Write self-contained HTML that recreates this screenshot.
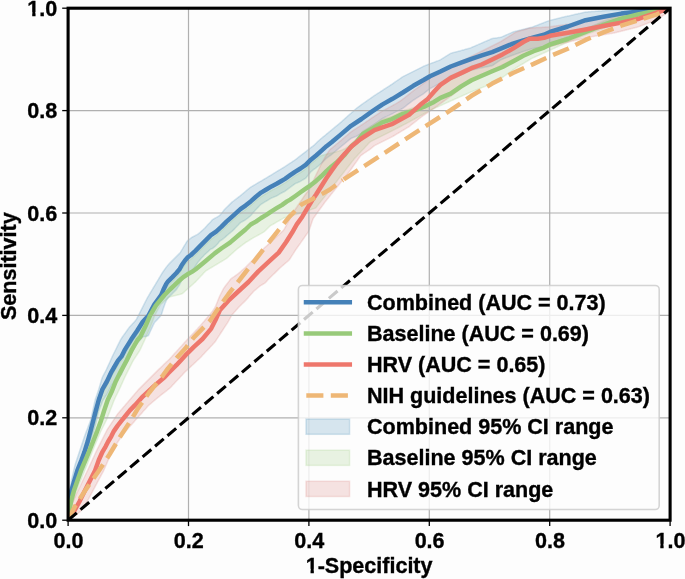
<!DOCTYPE html>
<html><head><meta charset="utf-8"><style>
html,body{margin:0;padding:0;background:#fdfdfd;width:685px;height:579px;overflow:hidden}
svg{display:block;will-change:transform}
text{font-family:"Liberation Sans",sans-serif}
</style></head><body>
<svg width="685" height="579" viewBox="0 0 685 579">
<rect width="685" height="579" fill="#fdfdfd"/>
<defs><clipPath id="ax"><rect x="68.1" y="8.2" width="602" height="512"/></clipPath></defs>
<g clip-path="url(#ax)">
<polygon points="68.0,520.0 68.5,505.6 69.5,492.6 70.5,486.3 71.5,480.0 72.5,475.7 73.5,471.4 74.5,467.1 75.5,463.5 76.5,460.5 77.5,457.5 78.5,454.5 79.5,451.5 80.5,448.5 81.5,445.5 82.5,442.5 83.5,439.5 84.5,436.5 85.5,433.7 86.5,431.1 87.5,428.5 88.5,425.8 89.5,423.2 90.5,420.6 91.5,416.5 92.5,411.9 93.5,407.3 94.5,402.7 95.5,398.8 96.5,395.9 97.5,392.9 98.5,390.0 99.5,386.6 100.5,383.2 101.5,379.7 102.5,377.0 103.5,375.1 104.5,373.2 105.5,371.3 106.5,369.3 107.5,367.1 108.5,364.9 109.5,362.7 110.5,360.5 111.5,358.3 112.5,356.1 113.5,354.0 114.5,352.0 115.5,350.0 116.5,348.0 117.5,345.9 118.5,343.9 119.5,341.9 120.5,339.9 121.5,338.3 122.5,336.8 123.5,335.4 124.5,334.0 125.5,332.6 126.5,331.2 127.5,329.8 128.5,328.4 129.5,327.0 130.5,325.9 131.5,324.9 132.5,323.8 133.5,322.8 134.5,321.7 135.5,320.6 136.5,319.2 137.5,317.2 138.5,315.3 139.5,313.3 140.5,311.3 141.5,309.3 142.5,307.4 143.5,305.4 144.5,303.4 145.5,301.4 146.5,299.5 147.5,297.5 148.5,295.9 149.5,294.2 150.5,292.5 151.5,290.8 152.5,289.2 153.5,287.5 154.5,285.8 155.5,284.2 156.5,282.5 157.5,280.8 158.5,279.2 159.5,277.5 160.5,275.8 161.5,274.1 162.5,272.5 163.5,271.0 164.5,269.6 165.5,268.3 166.5,266.9 167.5,265.6 168.5,264.4 169.5,263.4 170.5,262.4 171.5,261.4 172.5,260.4 173.5,259.4 174.5,258.4 175.5,257.4 176.5,256.4 177.5,255.4 178.5,254.4 179.5,253.4 180.5,252.1 181.5,250.4 182.5,248.8 183.5,247.1 184.5,245.4 185.5,243.8 186.5,242.1 187.5,240.7 188.5,239.9 189.5,239.2 190.5,238.4 191.5,237.6 192.5,237.0 193.5,236.5 194.5,236.0 195.5,235.4 196.5,234.9 197.5,234.4 198.5,233.7 199.5,232.9 200.5,232.0 201.5,231.1 202.5,230.2 203.5,229.3 204.5,228.4 205.5,227.3 206.5,226.2 207.5,225.1 208.5,224.0 209.5,223.0 210.5,221.9 211.5,220.8 212.5,219.7 213.5,219.1 214.5,218.5 215.5,217.9 216.5,217.4 217.5,216.8 218.5,216.2 219.5,215.6 220.5,214.6 221.5,213.4 222.5,212.1 223.5,210.8 224.5,209.6 225.5,208.5 226.5,207.5 227.5,206.5 228.5,205.6 229.5,204.6 230.5,203.6 231.5,202.6 232.5,201.7 233.5,201.0 234.5,200.2 235.5,199.4 236.5,198.7 237.5,197.9 238.5,197.1 239.5,196.4 240.5,195.6 241.5,194.7 242.5,193.9 243.5,193.1 244.5,192.2 245.5,191.4 246.5,190.5 247.5,189.7 248.5,188.9 249.5,188.0 250.5,187.3 251.5,186.7 252.5,186.1 253.5,185.5 254.5,184.9 255.5,184.3 256.5,183.7 257.5,183.1 258.5,182.5 259.5,181.9 260.5,181.3 261.5,180.8 262.5,180.2 263.5,179.6 264.5,179.0 265.5,178.4 266.5,177.8 267.5,177.2 268.5,176.6 269.5,176.0 270.5,175.4 271.5,174.8 272.5,174.2 273.5,173.6 274.5,172.9 275.5,172.3 276.5,171.7 277.5,171.1 278.5,170.5 279.5,169.9 280.5,169.3 281.5,168.7 282.5,168.1 283.5,167.5 284.5,166.9 285.5,166.2 286.5,165.6 287.5,164.9 288.5,164.2 289.5,163.6 290.5,162.9 291.5,162.3 292.5,161.6 293.5,160.9 294.5,160.3 295.5,159.5 296.5,158.8 297.5,158.0 298.5,157.2 299.5,156.4 300.5,155.7 301.5,154.9 302.5,154.1 303.5,153.3 304.5,152.6 305.5,151.8 306.5,151.0 307.5,150.2 308.5,149.5 309.5,148.7 310.5,147.9 311.5,147.1 312.5,146.4 313.5,145.6 314.5,144.7 315.5,143.7 316.5,142.8 317.5,141.8 318.5,140.9 319.5,140.0 320.5,139.1 321.5,138.3 322.5,137.4 323.5,136.6 324.5,135.8 325.5,135.0 326.5,134.1 327.5,133.3 328.5,132.5 329.5,131.7 330.5,130.8 331.5,130.0 332.5,129.2 333.5,128.4 334.5,127.5 335.5,126.7 336.5,125.9 337.5,125.1 338.5,124.2 339.5,123.4 340.5,122.6 341.5,121.7 342.5,120.8 343.5,119.9 344.5,119.0 345.5,118.1 346.5,117.2 347.5,116.3 348.5,115.4 349.5,114.5 350.5,113.7 351.5,112.8 352.5,111.9 353.5,111.0 354.5,110.1 355.5,109.2 356.5,108.3 357.5,107.5 358.5,106.8 359.5,106.1 360.5,105.3 361.5,104.6 362.5,103.9 363.5,103.2 364.5,102.5 365.5,101.8 366.5,101.1 367.5,100.4 368.5,99.7 369.5,99.0 370.5,98.3 371.5,97.6 372.5,96.9 373.5,96.2 374.5,95.5 375.5,94.9 376.5,94.2 377.5,93.6 378.5,92.9 379.5,92.3 380.5,91.6 381.5,91.0 382.5,90.3 383.5,89.7 384.5,89.0 385.5,88.4 386.5,87.7 387.5,87.1 388.5,86.4 389.5,85.8 390.5,85.1 391.5,84.5 392.5,83.8 393.5,83.1 394.5,82.4 395.5,81.7 396.5,81.0 397.5,80.3 398.5,79.7 399.5,79.0 400.5,78.3 401.5,77.6 402.5,76.9 403.5,76.3 404.5,75.8 405.5,75.3 406.5,74.8 407.5,74.3 408.5,73.8 409.5,73.3 410.5,72.8 411.5,72.3 412.5,71.8 413.5,71.3 414.5,70.8 415.5,70.3 416.5,69.8 417.5,69.3 418.5,68.8 419.5,68.3 420.5,67.8 421.5,67.3 422.5,66.8 423.5,66.3 424.5,65.9 425.5,65.5 426.5,65.1 427.5,64.7 428.5,64.3 429.5,64.0 430.5,63.6 431.5,63.2 432.5,62.8 433.5,62.5 434.5,62.1 435.5,61.7 436.5,61.3 437.5,60.9 438.5,60.6 439.5,60.2 440.5,59.7 441.5,59.1 442.5,58.4 443.5,57.8 444.5,57.2 445.5,56.6 446.5,55.9 447.5,55.3 448.5,54.7 449.5,54.1 450.5,53.4 451.5,53.1 452.5,52.8 453.5,52.5 454.5,52.3 455.5,52.0 456.5,51.7 457.5,51.5 458.5,51.2 459.5,50.9 460.5,50.7 461.5,50.4 462.5,50.1 463.5,49.9 464.5,49.6 465.5,49.3 466.5,49.0 467.5,48.8 468.5,48.5 469.5,48.2 470.5,47.9 471.5,47.5 472.5,47.0 473.5,46.6 474.5,46.2 475.5,45.7 476.5,45.3 477.5,44.9 478.5,44.4 479.5,44.0 480.5,43.6 481.5,43.1 482.5,42.7 483.5,42.3 484.5,41.8 485.5,41.4 486.5,41.0 487.5,40.5 488.5,40.1 489.5,39.7 490.5,39.2 491.5,38.8 492.5,38.5 493.5,38.3 494.5,38.2 495.5,38.0 496.5,37.9 497.5,37.7 498.5,37.6 499.5,37.4 500.5,37.3 501.5,37.0 502.5,36.6 503.5,36.1 504.5,35.7 505.5,35.3 506.5,34.8 507.5,34.4 508.5,33.9 509.5,33.5 510.5,33.1 511.5,32.6 512.5,32.2 513.5,31.8 514.5,31.6 515.5,31.3 516.5,31.1 517.5,30.8 518.5,30.6 519.5,30.3 520.5,30.1 521.5,29.8 522.5,29.6 523.5,29.3 524.5,29.1 525.5,28.8 526.5,28.5 527.5,28.3 528.5,28.0 529.5,27.8 530.5,27.5 531.5,27.3 532.5,27.0 533.5,26.6 534.5,26.2 535.5,25.8 536.5,25.5 537.5,25.1 538.5,24.7 539.5,24.3 540.5,23.9 541.5,23.5 542.5,23.2 543.5,22.8 544.5,22.4 545.5,22.0 546.5,21.6 547.5,21.3 548.5,20.9 549.5,20.5 550.5,20.2 551.5,19.9 552.5,19.7 553.5,19.5 554.5,19.2 555.5,19.0 556.5,18.7 557.5,18.5 558.5,18.3 559.5,18.0 560.5,17.8 561.5,17.5 562.5,17.3 563.5,17.1 564.5,16.8 565.5,16.6 566.5,16.4 567.5,16.1 568.5,15.9 569.5,15.7 570.5,15.5 571.5,15.2 572.5,15.0 573.5,14.8 574.5,14.5 575.5,14.3 576.5,14.1 577.5,13.9 578.5,13.6 579.5,13.4 580.5,13.2 581.5,12.9 582.5,12.7 583.5,12.5 584.5,12.3 585.5,12.0 586.5,11.9 587.5,11.9 588.5,11.8 589.5,11.7 590.5,11.7 591.5,11.6 592.5,11.5 593.5,11.5 594.5,11.4 595.5,11.3 596.5,11.3 597.5,11.2 598.5,11.1 599.5,11.1 600.5,11.0 601.5,10.9 602.5,10.8 603.5,10.8 604.5,10.7 605.5,10.6 606.5,10.6 607.5,10.5 608.5,10.4 609.5,10.4 610.5,10.3 611.5,10.2 612.5,10.2 613.5,10.1 614.5,10.1 615.5,10.0 616.5,10.0 617.5,10.0 618.5,9.9 619.5,9.9 620.5,9.8 621.5,9.8 622.5,9.8 623.5,9.7 624.5,9.7 625.5,9.6 626.5,9.6 627.5,9.5 628.5,9.5 629.5,9.4 630.5,9.4 631.5,9.4 632.5,9.3 633.5,9.3 634.5,9.2 635.5,9.2 636.5,9.2 637.5,9.1 638.5,9.1 639.5,9.0 640.5,9.0 641.5,9.0 642.5,8.9 643.5,8.9 644.5,8.9 645.5,8.9 646.5,8.8 647.5,8.8 648.5,8.8 649.5,8.7 650.5,8.7 651.5,8.7 652.5,8.7 653.5,8.6 654.5,8.6 655.5,8.6 656.5,8.6 657.5,8.5 658.5,8.5 659.5,8.5 660.5,8.5 661.5,8.4 662.5,8.4 663.5,8.4 664.5,8.3 665.5,8.3 666.5,8.3 667.5,8.3 668.5,8.2 669.5,8.2 670.0,8.2 670.0,8.2 669.5,8.3 668.5,8.5 667.5,8.7 666.5,9.0 665.5,9.2 664.5,9.4 663.5,9.6 662.5,9.8 661.5,10.0 660.5,10.3 659.5,10.5 658.5,10.7 657.5,10.9 656.5,11.1 655.5,11.3 654.5,11.5 653.5,11.6 652.5,11.8 651.5,12.0 650.5,12.2 649.5,12.3 648.5,12.5 647.5,12.7 646.5,12.9 645.5,13.0 644.5,13.2 643.5,13.4 642.5,13.6 641.5,13.7 640.5,13.9 639.5,14.1 638.5,14.3 637.5,14.4 636.5,14.6 635.5,14.8 634.5,15.0 633.5,15.2 632.5,15.4 631.5,15.6 630.5,15.7 629.5,15.9 628.5,16.1 627.5,16.3 626.5,16.5 625.5,16.7 624.5,16.9 623.5,17.1 622.5,17.2 621.5,17.4 620.5,17.7 619.5,18.0 618.5,18.3 617.5,18.6 616.5,18.9 615.5,19.2 614.5,19.5 613.5,19.8 612.5,20.1 611.5,20.4 610.5,20.7 609.5,21.0 608.5,21.2 607.5,21.5 606.5,21.8 605.5,22.1 604.5,22.4 603.5,22.6 602.5,22.9 601.5,23.3 600.5,23.6 599.5,23.9 598.5,24.2 597.5,24.5 596.5,24.9 595.5,25.2 594.5,25.5 593.5,25.8 592.5,26.1 591.5,26.5 590.5,26.8 589.5,27.1 588.5,27.4 587.5,27.7 586.5,28.1 585.5,28.4 584.5,28.9 583.5,29.4 582.5,29.8 581.5,30.3 580.5,30.8 579.5,31.3 578.5,31.8 577.5,32.2 576.5,32.7 575.5,33.2 574.5,33.7 573.5,34.2 572.5,34.6 571.5,35.1 570.5,35.6 569.5,36.1 568.5,36.6 567.5,37.0 566.5,37.4 565.5,37.8 564.5,38.2 563.5,38.6 562.5,39.0 561.5,39.3 560.5,39.7 559.5,40.1 558.5,40.5 557.5,40.9 556.5,41.2 555.5,41.6 554.5,42.0 553.5,42.4 552.5,42.8 551.5,43.1 550.5,43.5 549.5,44.0 548.5,44.5 547.5,45.0 546.5,45.5 545.5,46.0 544.5,46.5 543.5,46.8 542.5,47.0 541.5,47.1 540.5,47.3 539.5,47.5 538.5,47.6 537.5,47.8 536.5,48.0 535.5,48.1 534.5,48.3 533.5,48.5 532.5,48.6 531.5,48.9 530.5,49.2 529.5,49.5 528.5,49.9 527.5,50.2 526.5,50.5 525.5,50.8 524.5,51.1 523.5,51.4 522.5,51.8 521.5,52.1 520.5,52.5 519.5,52.8 518.5,53.2 517.5,53.5 516.5,53.9 515.5,54.3 514.5,54.6 513.5,55.0 512.5,55.3 511.5,55.7 510.5,56.1 509.5,56.5 508.5,56.9 507.5,57.3 506.5,57.6 505.5,58.0 504.5,58.4 503.5,58.8 502.5,59.2 501.5,59.6 500.5,60.1 499.5,60.8 498.5,61.5 497.5,62.2 496.5,62.8 495.5,63.5 494.5,64.2 493.5,64.9 492.5,65.6 491.5,65.9 490.5,66.1 489.5,66.3 488.5,66.5 487.5,66.7 486.5,66.9 485.5,67.1 484.5,67.3 483.5,67.5 482.5,67.7 481.5,67.9 480.5,68.1 479.5,68.3 478.5,68.5 477.5,68.8 476.5,69.0 475.5,69.2 474.5,69.4 473.5,69.7 472.5,69.9 471.5,70.1 470.5,70.4 469.5,70.8 468.5,71.3 467.5,71.8 466.5,72.3 465.5,72.8 464.5,73.3 463.5,73.8 462.5,74.2 461.5,74.7 460.5,75.2 459.5,75.7 458.5,76.1 457.5,76.6 456.5,77.1 455.5,77.5 454.5,78.0 453.5,78.4 452.5,78.9 451.5,79.4 450.5,79.8 449.5,80.2 448.5,80.5 447.5,80.8 446.5,81.2 445.5,81.5 444.5,81.9 443.5,82.2 442.5,82.6 441.5,82.9 440.5,83.3 439.5,83.7 438.5,84.2 437.5,84.7 436.5,85.2 435.5,85.7 434.5,86.3 433.5,86.8 432.5,87.3 431.5,87.8 430.5,88.3 429.5,89.0 428.5,89.8 427.5,90.6 426.5,91.4 425.5,92.2 424.5,93.0 423.5,93.8 422.5,94.4 421.5,95.1 420.5,95.7 419.5,96.3 418.5,96.9 417.5,97.6 416.5,98.2 415.5,98.8 414.5,99.5 413.5,100.1 412.5,100.8 411.5,101.6 410.5,102.4 409.5,103.2 408.5,103.9 407.5,104.7 406.5,105.5 405.5,106.3 404.5,107.1 403.5,107.8 402.5,108.5 401.5,109.0 400.5,109.6 399.5,110.1 398.5,110.6 397.5,111.1 396.5,111.7 395.5,112.2 394.5,112.7 393.5,113.2 392.5,113.8 391.5,114.2 390.5,114.7 389.5,115.2 388.5,115.6 387.5,116.1 386.5,116.6 385.5,117.0 384.5,117.5 383.5,118.0 382.5,118.4 381.5,119.1 380.5,119.8 379.5,120.6 378.5,121.3 377.5,122.0 376.5,122.7 375.5,123.5 374.5,124.2 373.5,124.9 372.5,125.5 371.5,126.2 370.5,126.9 369.5,127.6 368.5,128.4 367.5,129.1 366.5,129.8 365.5,130.5 364.5,131.2 363.5,131.9 362.5,132.6 361.5,133.4 360.5,134.0 359.5,134.5 358.5,135.1 357.5,135.7 356.5,136.2 355.5,136.6 354.5,137.0 353.5,137.4 352.5,137.8 351.5,138.2 350.5,138.9 349.5,139.7 348.5,140.5 347.5,141.3 346.5,142.2 345.5,143.0 344.5,143.8 343.5,144.6 342.5,145.4 341.5,146.2 340.5,147.1 339.5,147.9 338.5,148.7 337.5,149.6 336.5,150.4 335.5,151.3 334.5,152.1 333.5,153.0 332.5,153.8 331.5,154.7 330.5,155.4 329.5,156.1 328.5,156.8 327.5,157.5 326.5,158.3 325.5,159.2 324.5,160.2 323.5,161.2 322.5,162.2 321.5,163.2 320.5,164.1 319.5,165.0 318.5,165.8 317.5,166.7 316.5,167.5 315.5,168.3 314.5,168.9 313.5,169.6 312.5,170.5 311.5,171.3 310.5,172.3 309.5,173.5 308.5,174.7 307.5,176.0 306.5,177.2 305.5,178.3 304.5,178.9 303.5,179.5 302.5,180.1 301.5,180.7 300.5,181.3 299.5,181.8 298.5,182.2 297.5,182.7 296.5,183.1 295.5,183.5 294.5,184.2 293.5,184.9 292.5,185.6 291.5,186.3 290.5,187.1 289.5,187.8 288.5,188.6 287.5,189.3 286.5,190.1 285.5,190.9 284.5,191.5 283.5,192.0 282.5,192.5 281.5,193.0 280.5,193.6 279.5,194.2 278.5,194.8 277.5,195.4 276.5,196.0 275.5,196.4 274.5,196.8 273.5,197.2 272.5,197.6 271.5,198.0 270.5,198.6 269.5,199.2 268.5,199.8 267.5,200.4 266.5,201.0 265.5,201.6 264.5,202.2 263.5,202.8 262.5,203.4 261.5,204.0 260.5,204.8 259.5,205.8 258.5,206.9 257.5,207.9 256.5,208.9 255.5,210.0 254.5,211.2 253.5,212.3 252.5,213.5 251.5,214.7 250.5,215.8 249.5,216.7 248.5,217.5 247.5,218.3 246.5,219.0 245.5,219.8 244.5,220.4 243.5,221.0 242.5,221.5 241.5,222.1 240.5,222.7 239.5,223.6 238.5,224.7 237.5,225.7 236.5,226.8 235.5,227.8 234.5,228.9 233.5,229.9 232.5,230.9 231.5,231.8 230.5,232.6 229.5,233.4 228.5,234.2 227.5,235.1 226.5,235.9 225.5,236.9 224.5,237.8 223.5,238.6 222.5,239.3 221.5,240.0 220.5,240.6 219.5,241.4 218.5,242.7 217.5,243.9 216.5,245.1 215.5,246.1 214.5,246.9 213.5,247.7 212.5,248.5 211.5,248.8 210.5,249.3 209.5,250.2 208.5,251.2 207.5,252.1 206.5,253.0 205.5,253.9 204.5,254.8 203.5,255.9 202.5,257.0 201.5,258.1 200.5,259.2 199.5,260.4 198.5,261.5 197.5,262.9 196.5,264.4 195.5,266.0 194.5,267.4 193.5,268.8 192.5,270.1 191.5,271.4 190.5,272.3 189.5,273.0 188.5,273.6 187.5,274.7 186.5,275.5 185.5,276.1 184.5,277.0 183.5,278.1 182.5,279.2 181.5,280.8 180.5,282.9 179.5,284.9 178.5,286.4 177.5,287.9 176.5,289.4 175.5,290.4 174.5,291.5 173.5,292.5 172.5,293.6 171.5,294.6 170.5,295.5 169.5,296.5 168.5,297.4 167.5,298.7 166.5,300.2 165.5,302.6 164.5,305.3 163.5,308.0 162.5,311.3 161.5,314.4 160.5,316.1 159.5,317.2 158.5,318.3 157.5,319.4 156.5,320.4 155.5,321.5 154.5,322.6 153.5,324.6 152.5,326.7 151.5,328.9 150.5,331.0 149.5,333.2 148.5,335.4 147.5,336.0 146.5,336.2 145.5,336.4 144.5,336.5 143.5,336.7 142.5,337.2 141.5,338.4 140.5,339.6 139.5,340.8 138.5,342.0 137.5,343.2 136.5,344.3 135.5,345.8 134.5,347.7 133.5,349.6 132.5,351.4 131.5,353.3 130.5,355.5 129.5,357.7 128.5,359.5 127.5,361.3 126.5,363.1 125.5,364.9 124.5,366.8 123.5,369.4 122.5,372.0 121.5,374.5 120.5,375.4 119.5,375.8 118.5,376.2 117.5,377.2 116.5,378.6 115.5,379.9 114.5,381.3 113.5,382.7 112.5,384.1 111.5,385.3 110.5,387.3 109.5,389.3 108.5,391.3 107.5,393.3 106.5,395.0 105.5,396.5 104.5,398.1 103.5,399.6 102.5,401.2 101.5,404.2 100.5,406.6 99.5,408.9 98.5,411.6 97.5,415.9 96.5,420.3 95.5,424.8 94.5,428.6 93.5,431.8 92.5,434.9 91.5,438.0 90.5,441.6 89.5,446.4 88.5,451.2 87.5,455.8 86.5,459.7 85.5,463.5 84.5,467.1 83.5,469.6 82.5,472.0 81.5,474.5 80.5,476.6 79.5,478.6 78.5,480.7 77.5,482.8 76.5,486.3 75.5,489.9 74.5,492.9 73.5,495.4 72.5,497.9 71.5,500.4 70.5,501.2 69.5,502.7 68.5,503.0 68.0,520.0" fill="#3e88b2" fill-opacity="0.2" stroke="#3e88b2" stroke-opacity="0.2" stroke-width="1.5"/>
<polygon points="68.0,520.0 68.5,515.0 69.5,505.7 70.5,497.8 71.5,492.2 72.5,488.4 73.5,484.2 74.5,480.9 75.5,478.0 76.5,475.2 77.5,472.1 78.5,468.9 79.5,465.6 80.5,462.5 81.5,460.1 82.5,458.1 83.5,456.0 84.5,453.9 85.5,451.6 86.5,449.1 87.5,446.4 88.5,443.5 89.5,440.4 90.5,437.2 91.5,433.7 92.5,430.1 93.5,426.4 94.5,422.4 95.5,418.3 96.5,414.2 97.5,410.1 98.5,405.8 99.5,402.1 100.5,398.9 101.5,396.0 102.5,393.1 103.5,391.4 104.5,389.6 105.5,387.9 106.5,386.2 107.5,384.2 108.5,382.1 109.5,380.0 110.5,377.9 111.5,375.8 112.5,374.1 113.5,372.4 114.5,370.7 115.5,369.0 116.5,367.3 117.5,365.6 118.5,364.1 119.5,362.9 120.5,361.6 121.5,360.4 122.5,358.4 123.5,356.4 124.5,354.4 125.5,352.8 126.5,351.2 127.5,349.6 128.5,347.9 129.5,346.3 130.5,344.7 131.5,343.1 132.5,341.6 133.5,340.2 134.5,338.7 135.5,337.2 136.5,335.7 137.5,334.2 138.5,332.6 139.5,331.0 140.5,329.4 141.5,327.9 142.5,326.3 143.5,325.1 144.5,324.0 145.5,322.9 146.5,320.8 147.5,318.5 148.5,316.2 149.5,313.9 150.5,311.8 151.5,310.1 152.5,308.4 153.5,306.7 154.5,305.0 155.5,303.3 156.5,301.8 157.5,300.6 158.5,299.3 159.5,298.1 160.5,296.9 161.5,295.7 162.5,294.4 163.5,293.2 164.5,291.5 165.5,289.4 166.5,287.6 167.5,286.2 168.5,284.9 169.5,283.9 170.5,283.0 171.5,282.0 172.5,281.0 173.5,280.0 174.5,278.9 175.5,277.9 176.5,276.9 177.5,275.6 178.5,274.4 179.5,273.2 180.5,271.5 181.5,269.6 182.5,268.0 183.5,266.6 184.5,265.2 185.5,263.9 186.5,262.8 187.5,261.7 188.5,260.8 189.5,260.1 190.5,259.4 191.5,258.5 192.5,257.6 193.5,256.6 194.5,255.7 195.5,254.7 196.5,253.7 197.5,252.7 198.5,251.6 199.5,250.6 200.5,249.6 201.5,248.6 202.5,247.6 203.5,246.6 204.5,245.6 205.5,244.6 206.5,243.6 207.5,242.6 208.5,241.6 209.5,240.6 210.5,239.6 211.5,238.8 212.5,238.1 213.5,237.4 214.5,236.7 215.5,236.0 216.5,235.2 217.5,234.3 218.5,233.4 219.5,232.5 220.5,231.6 221.5,230.7 222.5,229.7 223.5,228.7 224.5,227.7 225.5,226.7 226.5,225.7 227.5,224.8 228.5,223.9 229.5,223.0 230.5,222.1 231.5,221.2 232.5,220.3 233.5,219.4 234.5,218.5 235.5,217.6 236.5,216.7 237.5,215.8 238.5,214.9 239.5,214.0 240.5,213.1 241.5,212.4 242.5,211.7 243.5,211.0 244.5,210.3 245.5,209.6 246.5,208.8 247.5,208.0 248.5,207.2 249.5,206.4 250.5,205.6 251.5,204.7 252.5,203.8 253.5,202.9 254.5,202.0 255.5,201.2 256.5,200.3 257.5,199.5 258.5,198.7 259.5,197.9 260.5,197.1 261.5,196.4 262.5,195.8 263.5,195.2 264.5,194.6 265.5,194.0 266.5,193.4 267.5,192.8 268.5,192.2 269.5,191.6 270.5,191.0 271.5,190.4 272.5,189.9 273.5,189.4 274.5,188.9 275.5,188.4 276.5,187.9 277.5,187.3 278.5,186.7 279.5,186.1 280.5,185.5 281.5,184.9 282.5,184.3 283.5,183.7 284.5,183.2 285.5,182.5 286.5,181.8 287.5,181.1 288.5,180.4 289.5,179.7 290.5,179.0 291.5,178.3 292.5,177.6 293.5,176.9 294.5,176.2 295.5,175.5 296.5,174.9 297.5,174.3 298.5,173.7 299.5,173.1 300.5,172.5 301.5,171.8 302.5,171.1 303.5,170.4 304.5,169.7 305.5,169.0 306.5,168.1 307.5,167.1 308.5,166.1 309.5,165.1 310.5,164.1 311.5,163.2 312.5,162.4 313.5,161.6 314.5,160.8 315.5,160.0 316.5,159.1 317.5,158.3 318.5,157.4 319.5,156.5 320.5,155.9 321.5,155.6 322.5,155.3 323.5,155.0 324.5,154.7 325.5,154.4 326.5,154.1 327.5,153.9 328.5,153.6 329.5,153.4 330.5,153.2 331.5,152.9 332.5,152.7 333.5,152.4 334.5,152.2 335.5,151.9 336.5,151.7 337.5,151.4 338.5,151.1 339.5,150.8 340.5,150.5 341.5,150.1 342.5,149.8 343.5,149.3 344.5,148.9 345.5,148.3 346.5,147.6 347.5,146.9 348.5,146.1 349.5,145.3 350.5,144.3 351.5,143.3 352.5,142.5 353.5,141.6 354.5,140.8 355.5,139.9 356.5,138.9 357.5,137.7 358.5,136.5 359.5,135.3 360.5,134.1 361.5,132.9 362.5,131.6 363.5,130.8 364.5,130.2 365.5,129.6 366.5,129.0 367.5,128.4 368.5,127.8 369.5,127.2 370.5,126.7 371.5,126.1 372.5,125.5 373.5,124.9 374.5,124.2 375.5,123.6 376.5,123.0 377.5,122.3 378.5,121.7 379.5,121.1 380.5,120.5 381.5,119.8 382.5,119.3 383.5,118.9 384.5,118.6 385.5,118.3 386.5,118.0 387.5,117.6 388.5,117.3 389.5,117.0 390.5,116.6 391.5,116.3 392.5,115.9 393.5,115.4 394.5,114.9 395.5,114.4 396.5,113.9 397.5,113.4 398.5,112.9 399.5,112.4 400.5,111.9 401.5,111.5 402.5,111.0 403.5,110.6 404.5,110.3 405.5,110.0 406.5,109.7 407.5,109.4 408.5,109.2 409.5,108.9 410.5,108.6 411.5,108.3 412.5,108.0 413.5,107.7 414.5,107.3 415.5,107.0 416.5,106.2 417.5,105.3 418.5,104.4 419.5,103.5 420.5,102.7 421.5,101.9 422.5,101.1 423.5,100.3 424.5,99.5 425.5,98.7 426.5,98.0 427.5,97.2 428.5,96.1 429.5,95.0 430.5,93.8 431.5,92.6 432.5,91.5 433.5,90.3 434.5,89.2 435.5,88.1 436.5,87.1 437.5,86.0 438.5,84.9 439.5,83.9 440.5,82.8 441.5,82.2 442.5,81.5 443.5,80.8 444.5,80.1 445.5,79.4 446.5,78.8 447.5,78.1 448.5,77.4 449.5,76.7 450.5,76.1 451.5,75.5 452.5,75.1 453.5,74.6 454.5,74.2 455.5,73.7 456.5,73.2 457.5,72.8 458.5,72.3 459.5,71.8 460.5,71.4 461.5,70.9 462.5,70.4 463.5,70.0 464.5,69.5 465.5,69.0 466.5,68.5 467.5,68.1 468.5,67.6 469.5,67.1 470.5,66.6 471.5,66.2 472.5,65.8 473.5,65.4 474.5,65.1 475.5,64.7 476.5,64.4 477.5,64.0 478.5,63.7 479.5,63.3 480.5,62.9 481.5,62.6 482.5,62.1 483.5,61.7 484.5,61.2 485.5,60.7 486.5,60.2 487.5,59.7 488.5,59.2 489.5,58.8 490.5,58.3 491.5,57.8 492.5,57.3 493.5,56.8 494.5,56.3 495.5,55.8 496.5,55.4 497.5,54.9 498.5,54.4 499.5,53.9 500.5,53.4 501.5,52.9 502.5,52.4 503.5,51.9 504.5,51.3 505.5,50.8 506.5,50.2 507.5,49.6 508.5,49.1 509.5,48.5 510.5,47.9 511.5,47.4 512.5,46.8 513.5,46.2 514.5,45.6 515.5,44.9 516.5,44.3 517.5,43.7 518.5,43.0 519.5,42.4 520.5,41.7 521.5,41.1 522.5,40.5 523.5,39.9 524.5,39.4 525.5,38.8 526.5,38.3 527.5,37.8 528.5,37.3 529.5,36.8 530.5,36.8 531.5,36.8 532.5,36.8 533.5,36.8 534.5,36.8 535.5,36.8 536.5,36.8 537.5,36.8 538.5,36.7 539.5,36.5 540.5,36.4 541.5,36.2 542.5,36.0 543.5,35.9 544.5,35.6 545.5,35.3 546.5,35.0 547.5,34.6 548.5,34.3 549.5,34.0 550.5,33.7 551.5,33.6 552.5,33.4 553.5,33.2 554.5,33.0 555.5,32.9 556.5,32.7 557.5,32.5 558.5,32.4 559.5,32.2 560.5,32.1 561.5,32.0 562.5,32.0 563.5,31.9 564.5,31.9 565.5,31.8 566.5,31.8 567.5,31.8 568.5,31.7 569.5,31.6 570.5,31.5 571.5,31.3 572.5,31.2 573.5,31.1 574.5,30.9 575.5,30.7 576.5,30.5 577.5,30.3 578.5,30.1 579.5,29.9 580.5,29.7 581.5,29.5 582.5,29.2 583.5,28.9 584.5,28.7 585.5,28.4 586.5,28.1 587.5,27.8 588.5,27.5 589.5,27.2 590.5,26.8 591.5,26.4 592.5,26.0 593.5,25.6 594.5,25.1 595.5,24.6 596.5,24.2 597.5,23.7 598.5,23.3 599.5,22.8 600.5,22.3 601.5,21.9 602.5,21.4 603.5,21.0 604.5,20.6 605.5,20.3 606.5,19.9 607.5,19.6 608.5,19.2 609.5,18.9 610.5,18.5 611.5,18.2 612.5,17.8 613.5,17.5 614.5,17.1 615.5,16.8 616.5,16.4 617.5,16.1 618.5,15.7 619.5,15.4 620.5,15.0 621.5,14.7 622.5,14.5 623.5,14.4 624.5,14.2 625.5,14.0 626.5,13.8 627.5,13.6 628.5,13.4 629.5,13.2 630.5,13.1 631.5,12.9 632.5,12.7 633.5,12.5 634.5,12.3 635.5,12.1 636.5,11.9 637.5,11.8 638.5,11.6 639.5,11.4 640.5,11.4 641.5,11.3 642.5,11.2 643.5,11.2 644.5,11.1 645.5,11.0 646.5,10.9 647.5,10.8 648.5,10.6 649.5,10.5 650.5,10.4 651.5,10.3 652.5,10.2 653.5,10.0 654.5,9.9 655.5,9.8 656.5,9.7 657.5,9.6 658.5,9.5 659.5,9.4 660.5,9.2 661.5,9.1 662.5,9.0 663.5,8.9 664.5,8.8 665.5,8.7 666.5,8.6 667.5,8.5 668.5,8.4 669.5,8.3 670.0,8.2 670.0,8.2 669.5,8.3 668.5,8.6 667.5,8.9 666.5,9.2 665.5,9.4 664.5,9.7 663.5,10.0 662.5,10.2 661.5,10.5 660.5,10.8 659.5,11.1 658.5,11.3 657.5,11.6 656.5,11.9 655.5,12.1 654.5,12.4 653.5,12.7 652.5,13.0 651.5,13.2 650.5,13.5 649.5,13.8 648.5,14.0 647.5,14.3 646.5,14.6 645.5,14.9 644.5,15.2 643.5,15.5 642.5,15.8 641.5,16.1 640.5,16.4 639.5,16.8 638.5,17.1 637.5,17.4 636.5,17.7 635.5,18.0 634.5,18.4 633.5,18.7 632.5,19.0 631.5,19.3 630.5,19.6 629.5,20.0 628.5,20.3 627.5,20.6 626.5,20.9 625.5,21.2 624.5,21.6 623.5,21.9 622.5,22.2 621.5,22.5 620.5,22.8 619.5,23.2 618.5,23.5 617.5,23.8 616.5,24.2 615.5,24.5 614.5,24.8 613.5,25.2 612.5,25.5 611.5,25.8 610.5,26.2 609.5,26.5 608.5,26.8 607.5,27.2 606.5,27.5 605.5,27.8 604.5,28.2 603.5,28.5 602.5,28.8 601.5,29.2 600.5,29.5 599.5,29.8 598.5,30.2 597.5,30.5 596.5,30.8 595.5,31.2 594.5,31.5 593.5,31.8 592.5,32.2 591.5,32.5 590.5,32.8 589.5,33.2 588.5,33.6 587.5,34.0 586.5,34.4 585.5,34.8 584.5,35.2 583.5,35.6 582.5,36.0 581.5,36.4 580.5,36.8 579.5,37.3 578.5,37.7 577.5,38.1 576.5,38.5 575.5,38.9 574.5,39.3 573.5,39.7 572.5,40.1 571.5,40.5 570.5,40.9 569.5,41.3 568.5,41.8 567.5,42.2 566.5,42.7 565.5,43.1 564.5,43.6 563.5,44.1 562.5,44.5 561.5,45.0 560.5,45.4 559.5,45.9 558.5,46.3 557.5,46.8 556.5,47.2 555.5,47.7 554.5,48.2 553.5,48.6 552.5,49.1 551.5,49.5 550.5,50.0 549.5,50.4 548.5,50.9 547.5,51.3 546.5,51.8 545.5,52.2 544.5,52.7 543.5,53.1 542.5,53.6 541.5,54.0 540.5,54.5 539.5,54.9 538.5,55.4 537.5,55.8 536.5,56.3 535.5,56.7 534.5,57.2 533.5,57.6 532.5,58.1 531.5,58.6 530.5,59.2 529.5,59.8 528.5,60.4 527.5,61.0 526.5,61.6 525.5,62.2 524.5,62.8 523.5,63.4 522.5,64.0 521.5,64.6 520.5,65.2 519.5,65.8 518.5,66.4 517.5,67.0 516.5,67.6 515.5,68.3 514.5,69.0 513.5,69.7 512.5,70.4 511.5,71.1 510.5,71.8 509.5,72.5 508.5,73.2 507.5,73.9 506.5,74.6 505.5,75.3 504.5,76.0 503.5,76.7 502.5,77.4 501.5,78.1 500.5,78.7 499.5,79.2 498.5,79.7 497.5,80.2 496.5,80.7 495.5,81.2 494.5,81.7 493.5,82.2 492.5,82.7 491.5,83.2 490.5,83.7 489.5,84.2 488.5,84.7 487.5,85.2 486.5,85.7 485.5,86.2 484.5,86.6 483.5,87.0 482.5,87.4 481.5,87.8 480.5,88.2 479.5,88.6 478.5,89.0 477.5,89.4 476.5,89.8 475.5,90.2 474.5,90.6 473.5,91.0 472.5,91.4 471.5,91.8 470.5,92.2 469.5,92.6 468.5,93.1 467.5,93.5 466.5,94.0 465.5,94.4 464.5,94.9 463.5,95.3 462.5,95.7 461.5,96.2 460.5,96.6 459.5,97.1 458.5,97.5 457.5,98.0 456.5,98.4 455.5,98.9 454.5,99.3 453.5,99.8 452.5,100.2 451.5,100.6 450.5,101.1 449.5,101.5 448.5,102.0 447.5,102.5 446.5,102.9 445.5,103.4 444.5,103.8 443.5,104.3 442.5,104.7 441.5,105.2 440.5,105.6 439.5,106.1 438.5,106.5 437.5,107.0 436.5,107.4 435.5,107.9 434.5,108.4 433.5,108.8 432.5,109.3 431.5,109.7 430.5,110.2 429.5,110.7 428.5,111.2 427.5,111.8 426.5,112.4 425.5,112.9 424.5,113.5 423.5,114.0 422.5,114.6 421.5,115.2 420.5,115.7 419.5,116.3 418.5,116.8 417.5,117.4 416.5,117.9 415.5,118.5 414.5,119.0 413.5,119.6 412.5,120.1 411.5,120.7 410.5,121.2 409.5,121.8 408.5,122.3 407.5,122.8 406.5,123.4 405.5,123.9 404.5,124.4 403.5,124.9 402.5,125.4 401.5,126.0 400.5,126.5 399.5,127.0 398.5,127.5 397.5,128.0 396.5,128.6 395.5,129.1 394.5,129.6 393.5,130.1 392.5,130.6 391.5,131.2 390.5,131.7 389.5,132.2 388.5,132.7 387.5,133.2 386.5,133.7 385.5,134.2 384.5,134.7 383.5,135.2 382.5,135.7 381.5,136.2 380.5,136.7 379.5,137.2 378.5,137.7 377.5,138.2 376.5,138.7 375.5,139.2 374.5,139.7 373.5,140.2 372.5,140.7 371.5,141.2 370.5,141.7 369.5,142.5 368.5,143.6 367.5,144.7 366.5,145.7 365.5,146.8 364.5,147.9 363.5,149.0 362.5,150.0 361.5,151.1 360.5,152.2 359.5,153.2 358.5,154.3 357.5,155.4 356.5,156.5 355.5,157.5 354.5,158.6 353.5,159.9 352.5,161.1 351.5,162.4 350.5,163.7 349.5,165.0 348.5,166.3 347.5,167.6 346.5,168.8 345.5,170.1 344.5,171.4 343.5,172.7 342.5,174.0 341.5,175.2 340.5,176.5 339.5,177.8 338.5,179.1 337.5,180.4 336.5,181.7 335.5,182.9 334.5,184.2 333.5,185.5 332.5,186.8 331.5,188.1 330.5,189.4 329.5,190.6 328.5,191.9 327.5,193.1 326.5,194.4 325.5,195.6 324.5,196.9 323.5,198.1 322.5,199.4 321.5,200.6 320.5,201.9 319.5,203.1 318.5,204.4 317.5,205.6 316.5,206.9 315.5,208.0 314.5,208.4 313.5,208.7 312.5,209.0 311.5,209.4 310.5,209.7 309.5,210.0 308.5,210.4 307.5,210.7 306.5,211.0 305.5,211.4 304.5,211.7 303.5,212.0 302.5,212.4 301.5,212.7 300.5,213.0 299.5,213.4 298.5,213.7 297.5,214.0 296.5,214.3 295.5,214.6 294.5,214.9 293.5,215.2 292.5,215.5 291.5,215.8 290.5,216.1 289.5,216.3 288.5,216.6 287.5,216.9 286.5,217.2 285.5,217.5 284.5,217.8 283.5,218.2 282.5,218.8 281.5,219.3 280.5,219.9 279.5,220.5 278.5,221.1 277.5,221.7 276.5,222.2 275.5,222.8 274.5,223.4 273.5,224.0 272.5,224.6 271.5,225.1 270.5,225.7 269.5,226.5 268.5,227.5 267.5,228.5 266.5,229.5 265.5,230.5 264.5,231.5 263.5,232.2 262.5,232.7 261.5,233.3 260.5,233.8 259.5,234.4 258.5,235.0 257.5,235.5 256.5,236.1 255.5,236.6 254.5,237.2 253.5,237.7 252.5,238.3 251.5,238.9 250.5,239.5 249.5,240.1 248.5,240.8 247.5,241.4 246.5,242.0 245.5,242.7 244.5,243.4 243.5,244.1 242.5,244.9 241.5,245.6 240.5,246.4 239.5,247.2 238.5,247.9 237.5,248.7 236.5,249.5 235.5,250.4 234.5,251.3 233.5,252.2 232.5,253.1 231.5,254.0 230.5,254.9 229.5,255.8 228.5,256.7 227.5,257.6 226.5,258.5 225.5,259.1 224.5,259.7 223.5,260.3 222.5,260.9 221.5,261.5 220.5,262.1 219.5,262.7 218.5,263.3 217.5,263.9 216.5,264.5 215.5,265.1 214.5,265.7 213.5,266.3 212.5,266.9 211.5,267.5 210.5,268.1 209.5,268.7 208.5,269.3 207.5,269.9 206.5,270.5 205.5,271.2 204.5,272.3 203.5,273.3 202.5,274.4 201.5,275.5 200.5,276.6 199.5,277.6 198.5,278.7 197.5,279.8 196.5,280.8 195.5,281.9 194.5,282.8 193.5,283.7 192.5,284.6 191.5,285.5 190.5,286.4 189.5,287.2 188.5,288.1 187.5,289.0 186.5,289.9 185.5,290.8 184.5,291.7 183.5,292.6 182.5,293.5 181.5,294.1 180.5,294.3 179.5,294.6 178.5,294.8 177.5,295.0 176.5,295.3 175.5,295.5 174.5,295.8 173.5,296.0 172.5,296.2 171.5,296.5 170.5,296.7 169.5,297.0 168.5,297.7 167.5,298.6 166.5,299.4 165.5,300.3 164.5,301.1 163.5,302.0 162.5,302.9 161.5,303.7 160.5,304.7 159.5,306.6 158.5,308.5 157.5,310.3 156.5,312.2 155.5,314.1 154.5,316.1 153.5,318.7 152.5,321.4 151.5,324.0 150.5,326.7 149.5,329.1 148.5,331.4 147.5,333.7 146.5,335.9 145.5,338.2 144.5,340.4 143.5,342.6 142.5,344.8 141.5,346.9 140.5,349.1 139.5,350.9 138.5,352.5 137.5,354.0 136.5,355.6 135.5,357.1 134.5,358.6 133.5,360.2 132.5,361.9 131.5,363.9 130.5,365.9 129.5,367.9 128.5,369.8 127.5,371.8 126.5,373.8 125.5,375.8 124.5,377.9 123.5,380.2 122.5,382.4 121.5,384.6 120.5,386.9 119.5,389.0 118.5,391.1 117.5,393.2 116.5,395.2 115.5,397.3 114.5,399.4 113.5,401.8 112.5,404.4 111.5,407.0 110.5,409.6 109.5,412.2 108.5,414.8 107.5,417.4 106.5,420.0 105.5,422.0 104.5,424.0 103.5,426.0 102.5,428.0 101.5,430.0 100.5,432.0 99.5,434.4 98.5,436.7 97.5,439.1 96.5,441.5 95.5,443.8 94.5,446.2 93.5,448.8 92.5,451.2 91.5,453.8 90.5,456.2 89.5,458.8 88.5,461.2 87.5,463.8 86.5,466.2 85.5,468.8 84.5,471.2 83.5,473.8 82.5,476.2 81.5,478.8 80.5,481.2 79.5,483.8 78.5,486.2 77.5,488.8 76.5,491.5 75.5,494.5 74.5,497.5 73.5,500.5 72.5,503.5 71.5,506.9 70.5,510.6 69.5,514.4 68.5,518.1 68.0,520.0" fill="#98ca7a" fill-opacity="0.2" stroke="#98ca7a" stroke-opacity="0.2" stroke-width="1.5"/>
<polygon points="68.0,520.0 68.5,517.0 69.5,511.0 70.5,506.9 71.5,504.8 72.5,502.6 73.5,500.4 74.5,498.2 75.5,496.1 76.5,493.9 77.5,491.8 78.5,489.6 79.5,487.5 80.5,485.4 81.5,483.2 82.5,481.1 83.5,478.9 84.5,476.8 85.5,474.6 86.5,472.5 87.5,470.4 88.5,468.2 89.5,466.1 90.5,463.9 91.5,461.7 92.5,459.6 93.5,457.4 94.5,455.2 95.5,453.0 96.5,450.9 97.5,448.8 98.5,446.8 99.5,444.9 100.5,442.9 101.5,440.9 102.5,438.9 103.5,436.9 104.5,434.9 105.5,433.0 106.5,431.0 107.5,429.1 108.5,427.6 109.5,426.1 110.5,424.6 111.5,423.1 112.5,421.6 113.5,420.1 114.5,418.6 115.5,417.1 116.5,415.6 117.5,414.1 118.5,412.9 119.5,411.7 120.5,410.5 121.5,409.4 122.5,408.2 123.5,407.0 124.5,405.9 125.5,404.7 126.5,403.5 127.5,402.4 128.5,401.2 129.5,400.1 130.5,398.9 131.5,397.7 132.5,396.6 133.5,395.4 134.5,394.2 135.5,393.1 136.5,391.9 137.5,390.7 138.5,389.6 139.5,388.6 140.5,387.6 141.5,386.6 142.5,385.6 143.5,384.6 144.5,383.6 145.5,382.6 146.5,381.6 147.5,380.6 148.5,379.6 149.5,378.6 150.5,377.6 151.5,376.6 152.5,375.6 153.5,374.6 154.5,373.6 155.5,372.6 156.5,371.6 157.5,370.6 158.5,369.6 159.5,368.6 160.5,367.7 161.5,366.7 162.5,365.8 163.5,364.8 164.5,363.8 165.5,362.9 166.5,361.9 167.5,361.0 168.5,360.0 169.5,359.1 170.5,358.0 171.5,356.9 172.5,355.8 173.5,354.7 174.5,353.6 175.5,352.5 176.5,351.4 177.5,350.3 178.5,349.2 179.5,348.1 180.5,347.0 181.5,345.9 182.5,344.8 183.5,343.7 184.5,342.6 185.5,341.5 186.5,340.4 187.5,339.3 188.5,338.3 189.5,337.2 190.5,336.1 191.5,335.1 192.5,334.0 193.5,332.9 194.5,331.9 195.5,330.8 196.5,329.7 197.5,328.7 198.5,327.6 199.5,326.5 200.5,325.4 201.5,324.2 202.5,323.1 203.5,321.9 204.5,320.8 205.5,319.6 206.5,318.4 207.5,317.2 208.5,316.1 209.5,314.9 210.5,313.8 211.5,312.6 212.5,311.2 213.5,309.7 214.5,308.2 215.5,306.5 216.5,304.0 217.5,301.5 218.5,299.0 219.5,296.5 220.5,294.5 221.5,292.5 222.5,290.6 223.5,288.6 224.5,287.2 225.5,285.8 226.5,284.5 227.5,283.2 228.5,281.9 229.5,280.6 230.5,279.3 231.5,278.4 232.5,277.7 233.5,277.0 234.5,276.3 235.5,275.6 236.5,274.9 237.5,274.2 238.5,273.4 239.5,272.6 240.5,271.7 241.5,270.8 242.5,269.9 243.5,269.0 244.5,268.2 245.5,267.3 246.5,266.4 247.5,265.4 248.5,264.4 249.5,263.4 250.5,262.4 251.5,261.4 252.5,260.4 253.5,259.2 254.5,257.9 255.5,256.6 256.5,255.4 257.5,254.3 258.5,253.4 259.5,252.5 260.5,251.5 261.5,250.6 262.5,249.7 263.5,248.8 264.5,247.8 265.5,246.9 266.5,246.0 267.5,245.1 268.5,244.1 269.5,243.2 270.5,242.3 271.5,241.4 272.5,240.4 273.5,239.5 274.5,238.6 275.5,237.7 276.5,236.7 277.5,235.8 278.5,234.9 279.5,234.0 280.5,233.1 281.5,232.1 282.5,231.2 283.5,230.3 284.5,228.7 285.5,226.8 286.5,224.9 287.5,223.1 288.5,221.2 289.5,219.3 290.5,217.5 291.5,215.6 292.5,213.7 293.5,212.0 294.5,210.5 295.5,209.0 296.5,207.5 297.5,206.0 298.5,204.5 299.5,203.0 300.5,201.5 301.5,200.1 302.5,198.6 303.5,197.1 304.5,195.6 305.5,194.3 306.5,193.0 307.5,191.7 308.5,190.4 309.5,189.1 310.5,187.2 311.5,184.9 312.5,182.6 313.5,180.3 314.5,178.1 315.5,176.0 316.5,173.8 317.5,171.8 318.5,169.7 319.5,167.6 320.5,165.6 321.5,163.7 322.5,161.8 323.5,159.9 324.5,158.1 325.5,156.3 326.5,154.6 327.5,153.1 328.5,151.6 329.5,150.2 330.5,149.1 331.5,148.3 332.5,147.5 333.5,146.7 334.5,145.8 335.5,145.0 336.5,144.2 337.5,143.3 338.5,142.5 339.5,141.6 340.5,140.8 341.5,140.0 342.5,139.1 343.5,138.2 344.5,137.4 345.5,136.5 346.5,135.7 347.5,134.8 348.5,134.0 349.5,133.1 350.5,132.3 351.5,131.5 352.5,130.8 353.5,130.2 354.5,129.5 355.5,128.9 356.5,128.2 357.5,127.6 358.5,126.9 359.5,126.3 360.5,125.7 361.5,125.0 362.5,124.4 363.5,123.7 364.5,123.0 365.5,122.3 366.5,121.6 367.5,120.9 368.5,120.3 369.5,119.6 370.5,118.9 371.5,118.2 372.5,117.5 373.5,116.9 374.5,116.2 375.5,115.5 376.5,114.9 377.5,114.2 378.5,113.6 379.5,112.9 380.5,112.2 381.5,111.6 382.5,110.9 383.5,110.4 384.5,109.9 385.5,109.3 386.5,108.8 387.5,108.3 388.5,107.7 389.5,107.2 390.5,106.7 391.5,106.1 392.5,105.6 393.5,105.0 394.5,104.4 395.5,103.9 396.5,103.3 397.5,102.7 398.5,102.1 399.5,101.5 400.5,100.8 401.5,100.1 402.5,99.3 403.5,98.5 404.5,97.8 405.5,97.0 406.5,96.2 407.5,95.4 408.5,94.6 409.5,93.8 410.5,93.0 411.5,92.2 412.5,91.4 413.5,90.7 414.5,89.9 415.5,89.2 416.5,88.5 417.5,87.8 418.5,87.1 419.5,86.4 420.5,85.6 421.5,84.9 422.5,84.1 423.5,83.3 424.5,82.5 425.5,81.8 426.5,81.0 427.5,80.2 428.5,79.4 429.5,78.6 430.5,77.9 431.5,77.2 432.5,76.6 433.5,75.9 434.5,75.3 435.5,74.7 436.5,74.1 437.5,73.6 438.5,73.0 439.5,72.5 440.5,71.9 441.5,71.3 442.5,70.8 443.5,70.2 444.5,69.6 445.5,69.1 446.5,68.6 447.5,68.2 448.5,67.8 449.5,67.3 450.5,66.8 451.5,66.4 452.5,66.0 453.5,65.5 454.5,65.1 455.5,64.6 456.5,64.0 457.5,63.5 458.5,62.9 459.5,62.3 460.5,61.8 461.5,61.2 462.5,60.8 463.5,60.2 464.5,59.8 465.5,59.2 466.5,58.8 467.5,58.2 468.5,57.8 469.5,57.2 470.5,56.8 471.5,56.2 472.5,55.8 473.5,55.2 474.5,54.8 475.5,54.2 476.5,53.8 477.5,53.2 478.5,52.8 479.5,52.2 480.5,51.8 481.5,51.2 482.5,50.8 483.5,50.2 484.5,49.8 485.5,49.2 486.5,48.8 487.5,48.2 488.5,47.8 489.5,47.2 490.5,46.8 491.5,46.2 492.5,45.8 493.5,45.2 494.5,44.8 495.5,44.2 496.5,43.8 497.5,43.2 498.5,42.8 499.5,42.2 500.5,41.7 501.5,41.1 502.5,40.4 503.5,39.8 504.5,39.2 505.5,38.6 506.5,37.9 507.5,37.3 508.5,36.7 509.5,36.1 510.5,35.4 511.5,34.8 512.5,34.2 513.5,33.6 514.5,32.9 515.5,32.3 516.5,31.9 517.5,31.6 518.5,31.3 519.5,31.0 520.5,30.7 521.5,30.4 522.5,30.1 523.5,29.9 524.5,29.6 525.5,29.3 526.5,29.0 527.5,28.7 528.5,28.4 529.5,28.1 530.5,28.0 531.5,27.9 532.5,27.9 533.5,27.8 534.5,27.8 535.5,27.7 536.5,27.6 537.5,27.6 538.5,27.5 539.5,27.5 540.5,27.4 541.5,27.4 542.5,27.3 543.5,27.2 544.5,27.2 545.5,27.1 546.5,27.1 547.5,27.0 548.5,26.9 549.5,26.8 550.5,26.7 551.5,26.5 552.5,26.4 553.5,26.2 554.5,26.1 555.5,26.0 556.5,25.8 557.5,25.7 558.5,25.6 559.5,25.4 560.5,25.3 561.5,25.2 562.5,25.0 563.5,24.9 564.5,24.8 565.5,24.6 566.5,24.5 567.5,24.3 568.5,24.2 569.5,24.1 570.5,23.9 571.5,23.7 572.5,23.5 573.5,23.3 574.5,23.1 575.5,22.9 576.5,22.7 577.5,22.5 578.5,22.3 579.5,22.1 580.5,21.9 581.5,21.7 582.5,21.5 583.5,21.3 584.5,21.1 585.5,20.9 586.5,20.7 587.5,20.5 588.5,20.3 589.5,20.1 590.5,19.9 591.5,19.7 592.5,19.5 593.5,19.3 594.5,19.1 595.5,18.9 596.5,18.7 597.5,18.5 598.5,18.3 599.5,18.1 600.5,17.9 601.5,17.7 602.5,17.5 603.5,17.4 604.5,17.2 605.5,17.0 606.5,16.8 607.5,16.6 608.5,16.4 609.5,16.3 610.5,16.1 611.5,15.9 612.5,15.7 613.5,15.5 614.5,15.3 615.5,15.2 616.5,15.0 617.5,14.8 618.5,14.6 619.5,14.4 620.5,14.2 621.5,14.1 622.5,13.9 623.5,13.7 624.5,13.5 625.5,13.3 626.5,13.1 627.5,13.0 628.5,12.8 629.5,12.6 630.5,12.4 631.5,12.3 632.5,12.2 633.5,12.1 634.5,12.0 635.5,11.9 636.5,11.8 637.5,11.7 638.5,11.6 639.5,11.5 640.5,11.4 641.5,11.3 642.5,11.2 643.5,11.0 644.5,10.9 645.5,10.8 646.5,10.7 647.5,10.6 648.5,10.5 649.5,10.4 650.5,10.3 651.5,10.2 652.5,10.1 653.5,10.0 654.5,9.9 655.5,9.8 656.5,9.7 657.5,9.5 658.5,9.4 659.5,9.3 660.5,9.2 661.5,9.1 662.5,9.0 663.5,8.9 664.5,8.8 665.5,8.7 666.5,8.6 667.5,8.5 668.5,8.4 669.5,8.3 670.0,8.2 670.0,8.2 669.5,9.0 668.5,10.6 667.5,12.2 666.5,13.3 665.5,14.0 664.5,14.6 663.5,15.2 662.5,15.9 661.5,16.5 660.5,17.1 659.5,17.8 658.5,18.4 657.5,19.0 656.5,19.7 655.5,20.2 654.5,20.6 653.5,21.0 652.5,21.4 651.5,21.8 650.5,22.1 649.5,22.5 648.5,22.9 647.5,23.3 646.5,23.7 645.5,24.1 644.5,24.5 643.5,24.9 642.5,25.2 641.5,25.6 640.5,26.0 639.5,26.4 638.5,26.8 637.5,27.1 636.5,27.4 635.5,27.6 634.5,27.9 633.5,28.1 632.5,28.4 631.5,28.6 630.5,28.9 629.5,29.1 628.5,29.4 627.5,29.6 626.5,29.9 625.5,30.1 624.5,30.4 623.5,30.6 622.5,30.9 621.5,31.1 620.5,31.4 619.5,31.6 618.5,31.9 617.5,32.1 616.5,32.4 615.5,32.6 614.5,32.9 613.5,33.1 612.5,33.2 611.5,33.4 610.5,33.6 609.5,33.8 608.5,33.9 607.5,34.1 606.5,34.2 605.5,34.4 604.5,34.6 603.5,34.8 602.5,34.9 601.5,35.1 600.5,35.2 599.5,35.4 598.5,35.6 597.5,35.8 596.5,35.9 595.5,36.1 594.5,36.2 593.5,36.4 592.5,36.6 591.5,36.8 590.5,36.9 589.5,37.1 588.5,37.4 587.5,37.6 586.5,37.8 585.5,38.0 584.5,38.3 583.5,38.5 582.5,38.8 581.5,39.0 580.5,39.2 579.5,39.5 578.5,39.7 577.5,39.9 576.5,40.1 575.5,40.4 574.5,40.6 573.5,40.9 572.5,41.1 571.5,41.3 570.5,41.5 569.5,41.8 568.5,42.0 567.5,42.2 566.5,42.5 565.5,42.7 564.5,43.0 563.5,43.2 562.5,43.4 561.5,43.6 560.5,43.9 559.5,44.1 558.5,44.4 557.5,44.7 556.5,44.9 555.5,45.2 554.5,45.5 553.5,45.7 552.5,46.0 551.5,46.3 550.5,46.5 549.5,46.8 548.5,47.1 547.5,47.3 546.5,47.6 545.5,47.9 544.5,48.1 543.5,48.4 542.5,48.7 541.5,48.9 540.5,49.2 539.5,49.5 538.5,49.7 537.5,50.0 536.5,50.3 535.5,50.5 534.5,50.8 533.5,51.1 532.5,51.3 531.5,51.6 530.5,51.9 529.5,52.2 528.5,52.7 527.5,53.2 526.5,53.6 525.5,54.1 524.5,54.6 523.5,55.0 522.5,55.5 521.5,56.0 520.5,56.4 519.5,56.9 518.5,57.4 517.5,57.8 516.5,58.3 515.5,58.8 514.5,59.2 513.5,59.7 512.5,60.2 511.5,60.6 510.5,61.1 509.5,61.6 508.5,62.0 507.5,62.5 506.5,63.0 505.5,63.4 504.5,63.9 503.5,64.4 502.5,64.8 501.5,65.3 500.5,65.8 499.5,66.3 498.5,66.8 497.5,67.3 496.5,67.9 495.5,68.4 494.5,68.9 493.5,69.5 492.5,70.0 491.5,70.5 490.5,71.1 489.5,71.6 488.5,72.1 487.5,72.7 486.5,73.2 485.5,73.7 484.5,74.3 483.5,74.8 482.5,75.3 481.5,75.9 480.5,76.4 479.5,76.9 478.5,77.5 477.5,78.0 476.5,78.5 475.5,79.1 474.5,79.6 473.5,80.1 472.5,80.7 471.5,81.2 470.5,81.7 469.5,82.4 468.5,83.1 467.5,83.8 466.5,84.6 465.5,85.3 464.5,86.0 463.5,86.8 462.5,87.5 461.5,88.2 460.5,89.0 459.5,89.7 458.5,90.4 457.5,91.2 456.5,91.9 455.5,92.6 454.5,93.4 453.5,94.1 452.5,94.8 451.5,95.6 450.5,96.3 449.5,97.0 448.5,97.8 447.5,98.5 446.5,99.2 445.5,100.0 444.5,100.7 443.5,101.4 442.5,102.2 441.5,102.9 440.5,103.6 439.5,104.3 438.5,105.0 437.5,105.8 436.5,106.5 435.5,107.2 434.5,107.8 433.5,108.5 432.5,109.2 431.5,110.0 430.5,110.7 429.5,111.3 428.5,112.0 427.5,112.8 426.5,113.5 425.5,114.2 424.5,114.8 423.5,115.5 422.5,116.2 421.5,117.0 420.5,117.7 419.5,118.4 418.5,119.2 417.5,120.0 416.5,120.8 415.5,121.6 414.5,122.3 413.5,123.1 412.5,123.9 411.5,124.7 410.5,125.5 409.5,126.3 408.5,127.0 407.5,127.6 406.5,128.2 405.5,128.8 404.5,129.4 403.5,130.0 402.5,130.6 401.5,131.2 400.5,131.8 399.5,132.4 398.5,133.0 397.5,133.6 396.5,134.2 395.5,134.8 394.5,135.4 393.5,136.0 392.5,136.6 391.5,137.1 390.5,137.6 389.5,138.1 388.5,138.6 387.5,139.1 386.5,139.6 385.5,140.1 384.5,140.6 383.5,141.1 382.5,141.6 381.5,142.1 380.5,142.6 379.5,143.1 378.5,143.6 377.5,144.1 376.5,144.6 375.5,145.1 374.5,145.6 373.5,146.4 372.5,147.2 371.5,148.1 370.5,148.9 369.5,149.6 368.5,150.3 367.5,151.0 366.5,151.7 365.5,152.3 364.5,153.0 363.5,153.7 362.5,154.4 361.5,155.1 360.5,155.9 359.5,157.3 358.5,158.7 357.5,160.2 356.5,161.6 355.5,163.0 354.5,164.4 353.5,165.8 352.5,167.3 351.5,168.7 350.5,170.1 349.5,171.5 348.5,172.7 347.5,174.0 346.5,175.2 345.5,176.5 344.5,177.7 343.5,179.0 342.5,180.2 341.5,181.5 340.5,182.7 339.5,184.0 338.5,185.2 337.5,186.5 336.5,187.7 335.5,188.9 334.5,190.2 333.5,191.4 332.5,192.7 331.5,193.9 330.5,195.2 329.5,196.4 328.5,197.7 327.5,198.9 326.5,200.2 325.5,201.4 324.5,202.8 323.5,204.2 322.5,205.6 321.5,207.0 320.5,208.3 319.5,209.7 318.5,211.1 317.5,212.5 316.5,213.9 315.5,215.3 314.5,216.7 313.5,218.0 312.5,220.2 311.5,223.2 310.5,226.3 309.5,229.3 308.5,231.7 307.5,233.1 306.5,234.5 305.5,235.9 304.5,237.4 303.5,238.8 302.5,240.2 301.5,241.6 300.5,243.1 299.5,244.5 298.5,245.9 297.5,247.3 296.5,248.7 295.5,250.2 294.5,251.7 293.5,253.3 292.5,254.8 291.5,256.4 290.5,258.0 289.5,259.5 288.5,260.6 287.5,261.5 286.5,262.3 285.5,263.2 284.5,264.0 283.5,264.9 282.5,265.8 281.5,266.6 280.5,267.5 279.5,268.4 278.5,269.4 277.5,270.4 276.5,271.4 275.5,272.4 274.5,273.4 273.5,274.3 272.5,275.3 271.5,276.3 270.5,277.3 269.5,278.3 268.5,279.3 267.5,280.3 266.5,281.4 265.5,282.5 264.5,283.3 263.5,283.9 262.5,284.5 261.5,285.1 260.5,285.7 259.5,286.4 258.5,287.3 257.5,288.1 256.5,289.0 255.5,289.8 254.5,290.6 253.5,291.5 252.5,292.7 251.5,293.8 250.5,295.0 249.5,296.1 248.5,297.3 247.5,298.4 246.5,299.6 245.5,300.6 244.5,301.6 243.5,302.6 242.5,303.5 241.5,304.5 240.5,305.5 239.5,306.5 238.5,307.6 237.5,308.7 236.5,309.8 235.5,311.0 234.5,312.1 233.5,313.2 232.5,314.3 231.5,315.7 230.5,317.5 229.5,319.3 228.5,321.1 227.5,322.8 226.5,324.3 225.5,325.8 224.5,327.4 223.5,328.9 222.5,330.5 221.5,332.0 220.5,333.5 219.5,335.1 218.5,336.6 217.5,338.2 216.5,339.7 215.5,341.2 214.5,342.5 213.5,343.6 212.5,344.7 211.5,345.7 210.5,346.8 209.5,347.9 208.5,348.9 207.5,350.0 206.5,351.1 205.5,352.1 204.5,353.2 203.5,354.3 202.5,355.3 201.5,356.4 200.5,357.5 199.5,358.5 198.5,359.4 197.5,360.3 196.5,361.3 195.5,362.2 194.5,363.1 193.5,364.1 192.5,365.0 191.5,365.9 190.5,366.9 189.5,367.8 188.5,368.7 187.5,369.7 186.5,370.6 185.5,371.5 184.5,372.5 183.5,373.6 182.5,374.7 181.5,375.7 180.5,376.8 179.5,377.9 178.5,378.9 177.5,380.0 176.5,381.1 175.5,382.1 174.5,383.2 173.5,384.3 172.5,385.3 171.5,386.4 170.5,387.5 169.5,388.4 168.5,389.2 167.5,390.0 166.5,390.8 165.5,391.6 164.5,392.3 163.5,393.1 162.5,393.9 161.5,394.7 160.5,395.5 159.5,396.3 158.5,397.1 157.5,397.9 156.5,398.8 155.5,399.6 154.5,400.4 153.5,401.3 152.5,402.1 151.5,403.0 150.5,403.8 149.5,404.6 148.5,405.5 147.5,406.6 146.5,407.8 145.5,408.9 144.5,410.0 143.5,411.1 142.5,412.3 141.5,413.4 140.5,414.5 139.5,415.6 138.5,416.8 137.5,417.9 136.5,419.0 135.5,420.1 134.5,421.3 133.5,422.4 132.5,423.5 131.5,424.7 130.5,425.8 129.5,427.0 128.5,428.1 127.5,429.2 126.5,430.4 125.5,431.5 124.5,432.7 123.5,433.8 122.5,435.0 121.5,436.5 120.5,438.0 119.5,439.5 118.5,441.0 117.5,442.5 116.5,444.0 115.5,445.5 114.5,447.0 113.5,448.5 112.5,450.0 111.5,452.4 110.5,454.7 109.5,457.1 108.5,459.4 107.5,461.8 106.5,464.1 105.5,466.5 104.5,468.8 103.5,470.9 102.5,472.8 101.5,474.7 100.5,476.6 99.5,478.4 98.5,480.3 97.5,482.2 96.5,484.1 95.5,485.9 94.5,487.8 93.5,489.7 92.5,491.6 91.5,493.4 90.5,495.3 89.5,497.2 88.5,499.1 87.5,500.8 86.5,502.2 85.5,503.8 84.5,505.2 83.5,506.8 82.5,508.2 81.5,509.8 80.5,511.2 79.5,512.3 78.5,513.0 77.5,513.7 76.5,514.3 75.5,515.0 74.5,515.7 73.5,516.3 72.5,517.0 71.5,517.7 70.5,518.3 69.5,519.0 68.5,519.7 68.0,520.0" fill="#d57671" fill-opacity="0.2" stroke="#d57671" stroke-opacity="0.2" stroke-width="1.5"/>
</g>
<line x1="188.50" y1="8.2" x2="188.50" y2="520.2" stroke="#b0b0b0" stroke-width="1.2"/>
<line x1="68.1" y1="417.80" x2="670.1" y2="417.80" stroke="#b0b0b0" stroke-width="1.2"/>
<line x1="308.90" y1="8.2" x2="308.90" y2="520.2" stroke="#b0b0b0" stroke-width="1.2"/>
<line x1="68.1" y1="315.40" x2="670.1" y2="315.40" stroke="#b0b0b0" stroke-width="1.2"/>
<line x1="429.30" y1="8.2" x2="429.30" y2="520.2" stroke="#b0b0b0" stroke-width="1.2"/>
<line x1="68.1" y1="213.00" x2="670.1" y2="213.00" stroke="#b0b0b0" stroke-width="1.2"/>
<line x1="549.70" y1="8.2" x2="549.70" y2="520.2" stroke="#b0b0b0" stroke-width="1.2"/>
<line x1="68.1" y1="110.60" x2="670.1" y2="110.60" stroke="#b0b0b0" stroke-width="1.2"/>
<g clip-path="url(#ax)" fill="none" stroke-linejoin="round" stroke-linecap="butt">
<polyline points="68.0,520.0 68.4,505.0 69.6,497.0 71.2,491.1 74.3,480.7 77.4,470.4 81.5,460.0 84.5,451.8 87.7,441.5 90.5,431.1 93.2,420.7 95.9,410.4 98.7,400.0 102.5,389.1 106.9,381.5 111.5,371.8 114.3,367.0 118.0,360.7 121.5,356.4 124.5,350.4 131.5,339.1 137.0,331.0 142.8,321.8 148.4,315.8 154.3,304.5 161.2,295.0 163.5,289.5 166.2,284.0 168.1,281.3 172.4,277.1 176.4,273.0 179.8,268.8 182.0,264.7 185.0,260.5 188.0,257.1 191.0,255.0 195.4,250.8 200.5,245.6 205.7,240.4 210.9,235.2 216.1,231.6 221.3,226.9 226.5,221.7 231.6,217.1 235.2,213.9 240.4,209.2 245.5,205.6 250.7,201.4 255.9,196.8 261.1,192.6 266.3,189.5 271.5,186.4 276.6,183.8 281.8,180.7 285.0,178.9 290.2,175.2 295.4,171.6 300.5,168.5 305.7,164.9 310.9,159.7 316.1,155.5 321.3,150.9 326.5,146.2 331.6,142.3 340.7,134.6 351.1,125.8 361.5,119.0 371.8,111.7 382.2,104.6 392.5,98.8 402.9,92.5 413.3,85.8 423.6,80.0 430.0,76.2 440.4,71.5 450.7,66.5 461.1,62.7 471.5,58.8 481.8,55.4 492.2,52.1 502.5,47.9 512.9,43.6 523.3,40.4 533.6,37.5 544.0,34.7 550.0,32.0 567.8,26.5 585.6,20.2 603.4,16.7 621.2,13.6 639.0,11.6 656.9,9.8 670.0,8.2" stroke="#4581b8" stroke-width="4.5"/>
<polyline points="68.0,520.0 69.2,511.8 71.0,501.5 73.8,491.1 77.4,480.7 81.0,470.4 85.5,460.0 88.9,451.8 93.1,441.5 97.2,431.1 101.0,420.7 104.2,410.4 107.7,400.0 111.6,391.8 115.7,381.5 121.0,371.1 126.5,360.7 131.5,350.4 137.5,340.0 140.5,336.5 145.5,326.1 150.0,315.7 156.0,305.4 164.5,295.0 169.9,289.5 174.3,285.4 178.5,281.3 183.3,277.1 187.5,274.3 192.3,271.6 195.4,269.5 205.7,261.0 215.0,253.1 222.0,248.0 230.0,242.6 238.3,235.5 245.5,229.5 250.7,224.5 255.9,221.6 261.1,218.0 266.3,214.9 271.5,211.3 276.6,208.2 281.8,205.1 287.0,201.4 290.2,199.6 295.4,196.0 300.5,192.3 305.7,188.7 310.9,185.1 316.1,180.9 321.3,176.3 326.5,171.1 331.6,166.4 336.8,162.2 342.0,157.5 345.0,154.4 350.7,147.0 356.0,142.5 363.0,134.0 373.0,128.2 382.2,122.4 392.0,119.1 402.9,113.8 413.3,110.8 423.6,107.0 434.0,101.9 440.4,97.8 450.7,93.6 461.1,86.4 471.5,80.2 481.8,75.7 492.2,71.3 502.5,67.0 512.9,61.4 523.3,55.8 533.6,51.2 544.0,47.6 550.0,44.5 567.8,39.0 585.6,31.8 603.4,24.8 621.2,18.7 639.0,14.2 656.9,10.7 670.0,8.2" stroke="#98ca7a" stroke-width="4.5"/>
<polyline points="68.0,520.0 73.8,511.8 79.5,501.5 84.7,491.1 89.9,480.7 95.1,470.4 98.8,460.0 102.5,451.8 105.6,446.6 108.2,441.5 111.3,436.3 113.9,431.1 117.5,425.9 121.6,420.7 125.8,415.5 129.9,410.4 135.0,405.2 143.0,396.3 154.2,385.9 164.5,377.3 168.0,373.5 176.6,364.9 185.3,355.4 193.9,346.8 202.5,339.0 211.2,328.6 215.5,320.1 219.8,310.3 228.4,300.7 237.1,292.5 248.5,282.0 258.1,271.6 270.2,260.4 278.7,252.6 286.0,242.3 292.0,232.8 296.8,224.4 302.3,216.7 312.0,200.5 316.1,194.5 321.3,186.2 326.5,178.0 331.6,170.6 336.8,163.5 342.0,157.0 345.0,153.5 352.0,146.0 360.7,139.0 374.5,130.2 391.8,124.2 409.1,114.8 420.0,105.1 427.8,98.9 434.0,91.7 440.4,84.9 450.7,77.9 461.1,73.1 471.5,68.2 481.8,64.5 492.2,59.4 502.5,54.4 512.9,48.6 523.3,42.0 529.5,38.8 537.8,38.8 544.0,37.8 550.0,35.8 567.8,32.7 585.6,29.5 603.4,26.0 621.2,22.6 639.0,18.7 656.9,12.6 670.0,8.2" stroke="#ee776c" stroke-width="4.5"/>
<polyline points="68.0,520.0 74.9,506.4 86.1,489.1 98.2,471.8 109.5,454.5 119.8,437.3 131.0,420.0 137.1,409.8 149.2,392.5 163.0,375.3 168.0,368.4 176.6,358.0 185.3,348.5 193.9,337.3 202.5,328.6 209.5,321.4 219.8,306.2 228.4,294.2 237.1,283.1 245.7,272.0 252.1,264.0 264.0,248.6" stroke="#eeb776" stroke-width="4.5" stroke-dasharray="17 7.4" stroke-dashoffset="0.00"/>
<polyline points="264.0,248.6 276.0,233.4 289.0,217.1 301.5,204.5 309.5,200.5 317.8,196.3 330.0,189.5 342.8,180.0" stroke="#eeb776" stroke-width="4.5" stroke-dasharray="17 7.4" stroke-dashoffset="334.15"/>
<polyline points="342.8,180.0 430.0,123.3 450.7,110.2 471.5,95.8 492.2,83.6 512.9,73.0 533.6,63.9 550.0,56.2 567.8,48.7 585.6,39.9 603.4,32.4 621.2,25.7 639.0,20.1 656.9,14.4 670.0,8.2" stroke="#eeb776" stroke-width="4.5" stroke-dasharray="17 7.4" stroke-dashoffset="438.04"/>
<line x1="68.1" y1="520.2" x2="670.1" y2="8.2" stroke="#000" stroke-width="3.1" stroke-dasharray="11.4 4.9"/>
</g>
<rect x="68.1" y="8.2" width="602.0" height="512.0" fill="none" stroke="#000" stroke-width="3.1" stroke-linejoin="miter"/>
<line x1="68.10" y1="520.2" x2="68.10" y2="526.10" stroke="#000" stroke-width="1.3"/>
<line x1="62.20" y1="520.20" x2="68.1" y2="520.20" stroke="#000" stroke-width="1.3"/>
<line x1="188.50" y1="520.2" x2="188.50" y2="526.10" stroke="#000" stroke-width="1.3"/>
<line x1="62.20" y1="417.80" x2="68.1" y2="417.80" stroke="#000" stroke-width="1.3"/>
<line x1="308.90" y1="520.2" x2="308.90" y2="526.10" stroke="#000" stroke-width="1.3"/>
<line x1="62.20" y1="315.40" x2="68.1" y2="315.40" stroke="#000" stroke-width="1.3"/>
<line x1="429.30" y1="520.2" x2="429.30" y2="526.10" stroke="#000" stroke-width="1.3"/>
<line x1="62.20" y1="213.00" x2="68.1" y2="213.00" stroke="#000" stroke-width="1.3"/>
<line x1="549.70" y1="520.2" x2="549.70" y2="526.10" stroke="#000" stroke-width="1.3"/>
<line x1="62.20" y1="110.60" x2="68.1" y2="110.60" stroke="#000" stroke-width="1.3"/>
<line x1="670.10" y1="520.2" x2="670.10" y2="526.10" stroke="#000" stroke-width="1.3"/>
<line x1="62.20" y1="8.20" x2="68.1" y2="8.20" stroke="#000" stroke-width="1.3"/>
<g font-family="Liberation Sans, sans-serif" font-weight="bold" font-size="21.55" fill="#000" stroke="#000" stroke-width="0.35">
<text transform="translate(68.40,547.50) scale(1.0,1.06)" text-anchor="middle">0.0</text>
<text transform="translate(57.30,527.80) scale(1.0,1.06)" text-anchor="end">0.0</text>
<text transform="translate(188.80,547.50) scale(1.0,1.06)" text-anchor="middle">0.2</text>
<text transform="translate(57.30,425.40) scale(1.0,1.06)" text-anchor="end">0.2</text>
<text transform="translate(309.20,547.50) scale(1.0,1.06)" text-anchor="middle">0.4</text>
<text transform="translate(57.30,323.00) scale(1.0,1.06)" text-anchor="end">0.4</text>
<text transform="translate(429.60,547.50) scale(1.0,1.06)" text-anchor="middle">0.6</text>
<text transform="translate(57.30,220.60) scale(1.0,1.06)" text-anchor="end">0.6</text>
<text transform="translate(550.00,547.50) scale(1.0,1.06)" text-anchor="middle">0.8</text>
<text transform="translate(57.30,118.20) scale(1.0,1.06)" text-anchor="end">0.8</text>
<text transform="translate(670.40,547.50) scale(1.0,1.06)" text-anchor="middle">1.0</text>
<text transform="translate(57.30,15.80) scale(1.0,1.06)" text-anchor="end">1.0</text>
<text transform="translate(369.10,572.6) scale(1.0,1.06)" text-anchor="middle">1-Specificity</text>
<text transform="translate(16.3,266.20) rotate(-90) scale(1.0,1.06)" text-anchor="middle">Sensitivity</text>
</g>
<g transform="translate(670.40,547.50) scale(1.0,1.06)" fill="#fdfdfd"><rect x="-14.966" y="-3.578" width="4.851" height="5.893"/><rect x="-6.790" y="-3.578" width="4.398" height="5.893"/></g>
<g transform="translate(57.30,15.80) scale(1.0,1.06)" fill="#fdfdfd"><rect x="-29.933" y="-3.578" width="4.851" height="5.893"/><rect x="-21.757" y="-3.578" width="4.398" height="5.893"/></g>
<g transform="translate(369.10,572.60) scale(1.0,1.06)" fill="#fdfdfd"><rect x="-63.429" y="-3.578" width="4.851" height="5.893"/><rect x="-55.253" y="-3.578" width="4.398" height="5.893"/></g>
<g>
</g>
<rect x="298.4" y="285.5" width="360.80000000000007" height="224.0" rx="4" ry="4" fill="#fdfdfd" fill-opacity="0.8" stroke="#cccccc" stroke-opacity="0.85" stroke-width="1.55"/>
<g font-family="Liberation Sans, sans-serif" font-weight="bold" font-size="21.55" fill="#000" stroke="#000" stroke-width="0.35">
<line x1="306" y1="302.30" x2="349.8" y2="302.30" stroke="#4581b8" stroke-width="4.5" stroke-linecap="square"/>
<text transform="translate(367.0,309.90) scale(1.0,1.06)">Combined (AUC = 0.73)</text>
<line x1="306" y1="333.40" x2="349.8" y2="333.40" stroke="#98ca7a" stroke-width="4.5" stroke-linecap="square"/>
<text transform="translate(367.0,341.00) scale(1.0,1.06)">Baseline (AUC = 0.69)</text>
<line x1="306" y1="364.50" x2="349.8" y2="364.50" stroke="#ee776c" stroke-width="4.5" stroke-linecap="square"/>
<text transform="translate(367.0,372.10) scale(1.0,1.06)">HRV (AUC = 0.65)</text>
<line x1="306.3" y1="395.60" x2="349.8" y2="395.60" stroke="#eeb776" stroke-width="4.5" stroke-dasharray="17.1 7.4"/>
<text transform="translate(367.0,403.20) scale(1.0,1.06)">NIH guidelines (AUC = 0.63)</text>
<rect x="306" y="419.10" width="43.6" height="15.2" fill="#3e88b2" fill-opacity="0.2" stroke="#3e88b2" stroke-opacity="0.2" stroke-width="1.5"/>
<text transform="translate(367.0,434.30) scale(1.0,1.06)">Combined 95% CI range</text>
<rect x="306" y="450.20" width="43.6" height="15.2" fill="#98ca7a" fill-opacity="0.2" stroke="#98ca7a" stroke-opacity="0.2" stroke-width="1.5"/>
<text transform="translate(367.0,465.40) scale(1.0,1.06)">Baseline 95% CI range</text>
<rect x="306" y="481.30" width="43.6" height="15.2" fill="#d57671" fill-opacity="0.2" stroke="#d57671" stroke-opacity="0.2" stroke-width="1.5"/>
<text transform="translate(367.0,496.50) scale(1.0,1.06)">HRV 95% CI range</text>
</g>
</svg>
</body></html>
